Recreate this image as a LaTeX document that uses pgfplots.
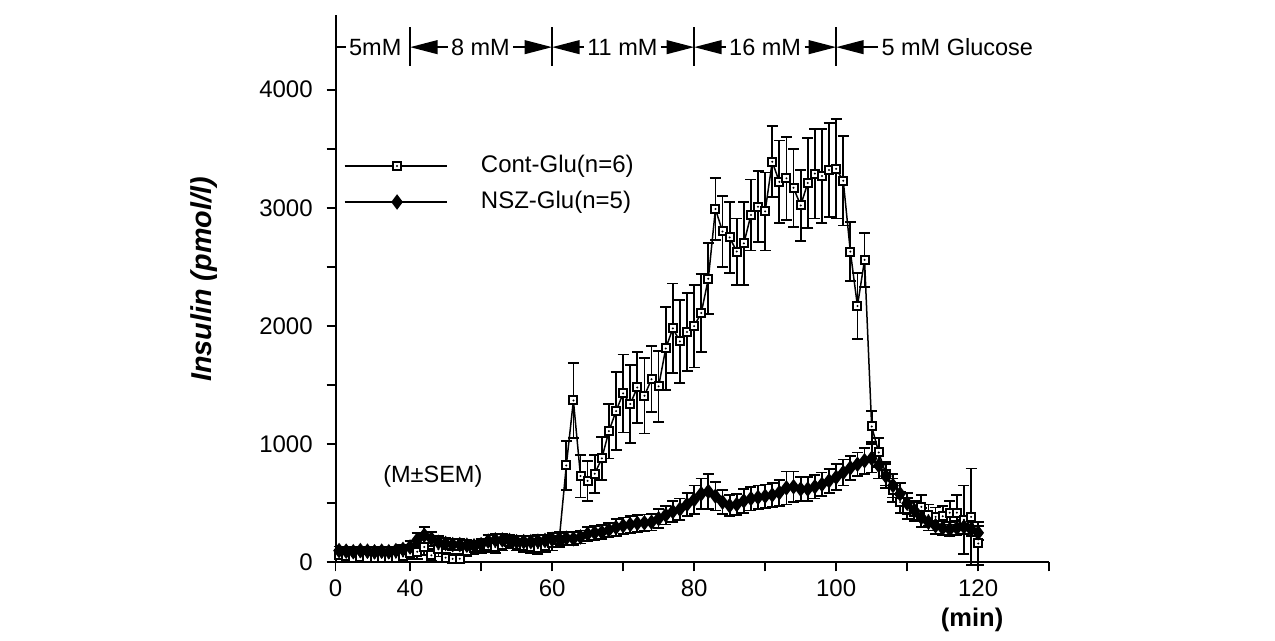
\documentclass[border=0pt]{standalone}
\usepackage{fontspec}
\setmainfont{Liberation Sans}
\usepackage{pgfplots}
\usepackage{pgfplotstable}
\pgfplotsset{compat=1.18}
\usetikzlibrary{arrows.meta}

% open square with a dot in the middle
\pgfdeclareplotmark{sqdot}{%
  \pgfpathrectangle{\pgfpoint{-\pgfplotmarksize}{-\pgfplotmarksize}}{\pgfpoint{2\pgfplotmarksize}{2\pgfplotmarksize}}%
  \pgfusepathqfillstroke
  \begin{pgfscope}
  \pgfpathcircle{\pgfpointorigin}{0.28\pgfplotmarksize}%
  \pgfsetfillcolor{black}\pgfusepathqfill
  \end{pgfscope}}

\pgfplotstableread{
t v e
30 60 30
31 50 30
32 40 30
33 45 30
34 40 30
35 35 30
36 40 30
37 35 30
38 40 30
39 50 40
40 80 50
41 90 60
42 130 70
43 60 50
44 110 60
45 40 40
46 30 40
47 30 40
48 100 50
49 120 50
50 130 50
51 140 50
52 130 50
53 150 50
54 170 50
55 150 50
56 140 50
57 130 50
58 120 50
59 140 50
60 160 60
61 190 60
62 820 210
63 1370 320
64 730 180
65 690 170
66 750 160
67 880 180
68 1110 230
69 1280 330
70 1430 330
71 1340 330
72 1480 300
73 1410 320
74 1550 280
75 1490 300
76 1810 350
77 1980 380
78 1870 350
79 1950 330
80 2000 350
81 2110 330
82 2400 300
83 2990 260
84 2800 300
85 2750 300
86 2630 280
87 2700 350
88 2940 300
89 3010 300
90 2970 330
91 3390 300
92 3220 350
93 3250 350
94 3170 330
95 3020 300
96 3210 380
97 3290 380
98 3270 400
99 3320 400
100 3330 420
101 3230 380
102 2630 250
103 2170 280
104 2560 230
105 1150 130
106 930 120
107 750 100
108 610 100
109 510 90
110 455 90
111 430 80
112 470 100
113 400 90
114 385 80
115 390 90
116 420 100
117 420 150
118 360 290
119 385 410
120 160 180
}\contglu

\pgfplotstableread{
t v e
30 100 35
31 95 35
32 90 35
33 100 35
34 95 35
35 90 35
36 95 35
37 90 35
38 100 35
39 110 40
40 130 50
41 190 60
42 230 70
43 200 60
44 170 50
45 160 45
46 150 45
47 150 45
48 145 45
49 140 45
50 150 45
51 180 50
52 190 50
53 190 50
54 185 50
55 175 50
56 175 50
57 175 50
58 180 50
59 185 50
60 195 55
61 200 55
62 205 55
63 200 55
64 215 55
65 240 60
66 250 60
67 255 60
68 275 60
69 295 70
70 310 70
71 320 70
72 330 70
73 335 70
74 340 70
75 370 80
76 400 80
77 430 90
78 450 90
79 490 100
80 530 120
81 580 130
82 600 150
83 560 120
84 510 100
85 480 90
86 490 90
87 520 100
88 540 100
89 550 100
90 560 100
91 570 100
92 590 110
93 630 140
94 640 130
95 620 100
96 620 100
97 640 100
98 660 100
99 690 100
100 720 110
101 760 110
102 800 100
103 830 100
104 860 110
105 880 120
106 820 110
107 730 100
108 650 100
109 580 90
110 500 90
111 440 80
112 380 80
113 340 70
114 310 70
115 290 60
116 280 60
117 290 60
118 300 60
119 280 60
120 250 60
}\nszglu

\begin{document}
\begin{tikzpicture}
\begin{axis}[
  scale only axis,
  width=285.4pt, height=218.8pt,
  xmin=29.5, xmax=130, ymin=0, ymax=4630,
  clip=false,
  axis lines=left,
  axis line style={-, line width=0.8pt},
  xtick={29.5,40,50,60,70,80,90,100,110,120,130},
  xticklabels={0,40,,60,,80,,100,,120,},
  ytick={0,1000,2000,3000,4000},
  minor ytick={500,1500,2500,3500},
  tick align=outside,
  major tick length=3.6pt, minor tick length=3.6pt,
  tick style={black, line width=0.7pt},
  /pgf/number format/assume math mode=true,
  /pgf/number format/1000 sep={},
  ticklabel style={font=\fontsize{9.6}{11}\selectfont},
  yticklabel style={xshift=-2pt},
  xlabel={(min)},
  xlabel style={at={(axis description cs:0.892,-0.106)}, anchor=center,
    font=\fontsize{10.2}{12}\selectfont\bfseries},
  ylabel={Insulin (pmol/l)},
  ylabel style={at={(axis description cs:-0.184,0.517)}, anchor=center,
    font=\fontsize{11.5}{13}\selectfont\bfseries\itshape},
  legend style={draw=none, fill=none, at={(axis cs:29.45,3496)}, anchor=north west,
    font=\fontsize{9.6}{11}\selectfont, row sep=5.4pt,
    nodes={inner sep=0pt, text height=7pt, text depth=2pt},
    /tikz/every odd column/.append style={column sep=13pt}},
  legend cell align=left,
  legend image code/.code={%
    \draw[mark repeat=2, mark phase=2, #1] plot coordinates {(0pt,0pt) (21pt,0pt) (41pt,0pt)};},
]
\addplot[black, line width=0.6pt, mark=sqdot, mark size=1.6pt,
  mark options={solid, fill=white, line width=0.8pt},
  error bars/.cd, y dir=both, y explicit,
  error bar style={line width=0.7pt},
  error mark options={rotate=90, mark size=2.2pt, line width=0.7pt}]
  table[x=t, y=v, y error=e] {\contglu};
\addlegendentry{Cont-Glu(n=6)}
\addplot[black, line width=1.1pt, mark=diamond*, mark size=2.2pt,
  mark options={solid},
  error bars/.cd, y dir=both, y explicit,
  error bar style={line width=0.7pt},
  error mark options={rotate=90, mark size=2.2pt, line width=0.7pt}]
  table[x=t, y=v, y error=e] {\nszglu};
\addlegendentry{NSZ-Glu(n=5)}

% glucose steps along the top
\draw[line width=0.7pt] (axis cs:40,4530) -- (axis cs:40,4200);
\draw[line width=0.7pt] (axis cs:60,4530) -- (axis cs:60,4200);
\draw[line width=0.7pt] (axis cs:80,4530) -- (axis cs:80,4200);
\draw[line width=0.7pt] (axis cs:100,4530) -- (axis cs:100,4200);
\node[inner sep=1.2pt, font=\fontsize{9.4}{11}\selectfont] (g1) at (axis cs:35.1,4360) {5mM};
\node[inner sep=1.2pt, font=\fontsize{9.4}{11}\selectfont] (g2) at (axis cs:49.9,4360) {8 mM};
\node[inner sep=1.2pt, font=\fontsize{9.4}{11}\selectfont] (g3) at (axis cs:69.9,4360) {11 mM};
\node[inner sep=1.2pt, font=\fontsize{9.4}{11}\selectfont] (g4) at (axis cs:90.0,4360) {16 mM};
\node[inner sep=1.2pt, anchor=west, font=\fontsize{9.4}{11}\selectfont] (g5) at (axis cs:105.9,4360) {5 mM Glucose};
\draw[line width=0.7pt] (axis cs:29.5,4360) -- (g1.west);
\draw[line width=0.7pt, -{Triangle[length=11pt,width=5.5pt]}] (g2.west) -- (axis cs:40,4360);
\draw[line width=0.7pt, -{Triangle[length=11pt,width=5.5pt]}] (g2.east) -- (axis cs:60,4360);
\draw[line width=0.7pt, -{Triangle[length=11pt,width=5.5pt]}] (g3.west) -- (axis cs:60,4360);
\draw[line width=0.7pt, -{Triangle[length=11pt,width=5.5pt]}] (g3.east) -- (axis cs:80,4360);
\draw[line width=0.7pt, -{Triangle[length=11pt,width=5.5pt]}] (g4.west) -- (axis cs:80,4360);
\draw[line width=0.7pt, -{Triangle[length=11pt,width=5.5pt]}] (g4.east) -- (axis cs:100,4360);
\draw[line width=0.7pt, -{Triangle[length=11pt,width=5.5pt]}] (g5.west) -- (axis cs:100,4360);
\node[font=\fontsize{9.4}{11}\selectfont] at (axis cs:43.2,728) {(M±SEM)};
% page extent of the reference
\path (axis cs:-17.75,-643.5) rectangle (axis cs:161.8,4759);
\end{axis}
\end{tikzpicture}
\end{document}
